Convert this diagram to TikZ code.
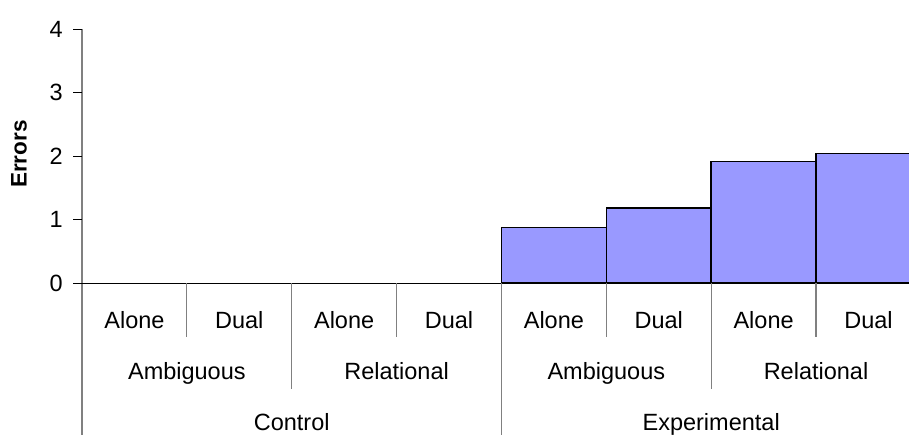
\documentclass[tikz,border=0pt]{standalone}
\usepackage{fontspec}
\setmainfont{Liberation Sans}
\begin{document}
\begin{tikzpicture}[x=1pt,y=-1pt,
  lbl/.style={font=\fontsize{23.5}{25}\selectfont, inner sep=0pt, anchor=center},
  ticklbl/.style={font=\fontsize{23.5}{25}\selectfont, inner sep=0pt, anchor=east},
  bar/.style={fill=barblue, draw=black, line width=1.6pt},
  sep/.style={draw=axisgray, line width=1.2pt},
  tick/.style={draw=black, line width=1pt}]
\definecolor{barblue}{HTML}{9999FF}
\definecolor{axisgray}{HTML}{808080}
\useasboundingbox (0,0) rectangle (909,435);
\begin{scope}
\clip (0,0) rectangle (909,435);

% geometry: category width, zero line and unit height
\def\cw{104.86}
\def\xo{82}
\def\yz{283.3}
\def\un{63.5}

% bars (experimental conditions)
\foreach \i/\v in {4/0.876, 5/1.19, 6/1.915, 7/2.047}{
  \path[bar] ({\xo+\i*\cw},\yz) rectangle ({\xo+(\i+1)*\cw},{\yz-\v*\un});
}

% vertical axis and ticks
\draw[axisgray, line width=1.6pt] (\xo,29.3) -- (\xo,435);
\foreach \k in {0,...,4}{
  \draw[tick] (73,{\yz-\k*\un}) -- (\xo,{\yz-\k*\un});
  \node[ticklbl] (t\k) at (63,{\yz-\k*\un}) {\k};
}

% horizontal zero line
\draw[black, line width=1pt] (73,\yz) -- (909,\yz);

% category separators below the axis
\foreach \i in {1,3,5,7}{
  \draw[sep] ({\xo+\i*\cw},\yz) -- ({\xo+\i*\cw},337);
}
\foreach \i in {2,6}{
  \draw[sep] ({\xo+\i*\cw},\yz) -- ({\xo+\i*\cw},389);
}
\draw[sep] ({\xo+4*\cw},\yz) -- ({\xo+4*\cw},435);

% first row: Alone / Dual
\foreach \i/\t in {0/Alone,1/Dual,2/Alone,3/Dual,4/Alone,5/Dual,6/Alone,7/Dual}{
  \node[lbl, anchor=base] (c\i) at ({\xo+(\i+0.5)*\cw},328) {\t};
}
% second row
\node[lbl, anchor=base] (g0) at ({\xo+1*\cw},379) {Ambiguous};
\node[lbl, anchor=base] (g1) at ({\xo+3*\cw},379) {Relational};
\node[lbl, anchor=base] (g2) at ({\xo+5*\cw},379) {Ambiguous};
\node[lbl, anchor=base] (g3) at ({\xo+7*\cw},379) {Relational};
% third row
\node[lbl, anchor=base] (h0) at ({\xo+2*\cw},430) {Control};
\node[lbl, anchor=base] (h1) at ({\xo+6*\cw},430) {Experimental};

% axis title
\node[lbl, font=\fontsize{22.5}{24}\selectfont\bfseries, rotate=90] (ytitle) at (19,154) {Errors};
\end{scope}
\end{tikzpicture}
\end{document}
